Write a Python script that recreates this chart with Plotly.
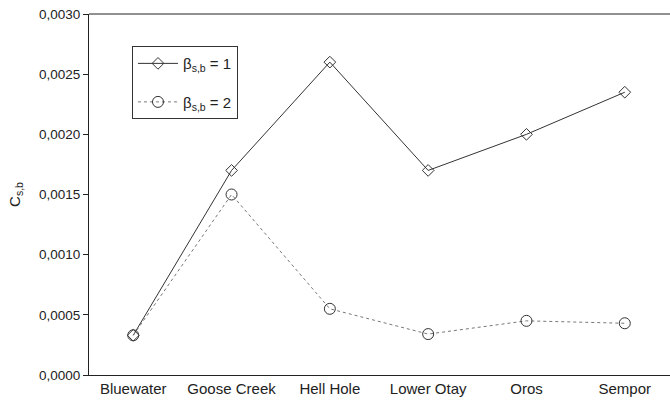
import plotly.graph_objects as go

categories = ["Bluewater", "Goose Creek", "Hell Hole", "Lower Otay", "Oros", "Sempor"]
beta1 = [0.00033, 0.0017, 0.0026, 0.0017, 0.0020, 0.00235]
beta2 = [0.00033, 0.0015, 0.00055, 0.00034, 0.00045, 0.00043]
ytick_vals = [0.0, 0.0005, 0.0010, 0.0015, 0.0020, 0.0025, 0.0030]

fig = go.Figure()
fig.add_trace(go.Scatter(
    x=list(range(len(categories))), y=beta1, mode="lines+markers",
    name="β<sub>s,b</sub> = 1", legendgroup="a",
    line=dict(color="#333333", width=1),
    marker=dict(symbol="diamond-open", size=9, color="#333333", line=dict(width=1)),
))
fig.add_trace(go.Scatter(
    x=list(range(len(categories))), y=beta2, mode="lines+markers",
    name="β<sub>s,b</sub> = 2", legendgroup="b",
    line=dict(color="#777777", width=1, dash="dot"),
    marker=dict(symbol="circle-open", size=11, color="#333333", line=dict(width=1)),
))

fig.update_layout(
    width=670, height=404,
    margin=dict(l=89, r=0, t=14, b=29),
    plot_bgcolor="white", paper_bgcolor="white",
    font=dict(family="Liberation Sans", size=14, color="#222222"),
    separators=",.",
    showlegend=True,
    legend=dict(
        x=0.074, y=0.911, xanchor="left", yanchor="top",
        bordercolor="#333333", borderwidth=1, bgcolor="white",
        font=dict(size=15), tracegroupgap=16, traceorder="grouped",
        itemwidth=40,
    ),
    xaxis=dict(
        range=[-0.45, 5.46], tickmode="array",
        tickvals=list(range(len(categories))), ticktext=categories,
        showline=True, linecolor="#222222", linewidth=1,
        showgrid=False, zeroline=False, ticks="",
        tickfont=dict(size=15), automargin=False,
    ),
    yaxis=dict(
        range=[0, 0.0030], tickmode="array", tickvals=ytick_vals,
        tickformat=".4f",
        showline=True, linecolor="#222222", linewidth=1, mirror=False,
        showgrid=False, zeroline=False, ticks="outside", ticklen=5,
        tickcolor="#222222", tickfont=dict(size=13.5), automargin=False,
        title=dict(text="C<sub>s,b</sub>", font=dict(size=15), standoff=14),
    ),
    shapes=[dict(type="line", xref="paper", yref="paper", x0=0, x1=1, y0=1, y1=1,
                 line=dict(color="#222222", width=1))],
)

fig.write_html("out.html", config={"displayModeBar": False})

with open("out.html", "r", encoding="utf-8") as f:
    html = f.read()
html = html.replace("<head>", "<head><style>html,body{margin:0;padding:0;overflow:hidden;}</style>", 1)
with open("out.html", "w", encoding="utf-8") as f:
    f.write(html)
